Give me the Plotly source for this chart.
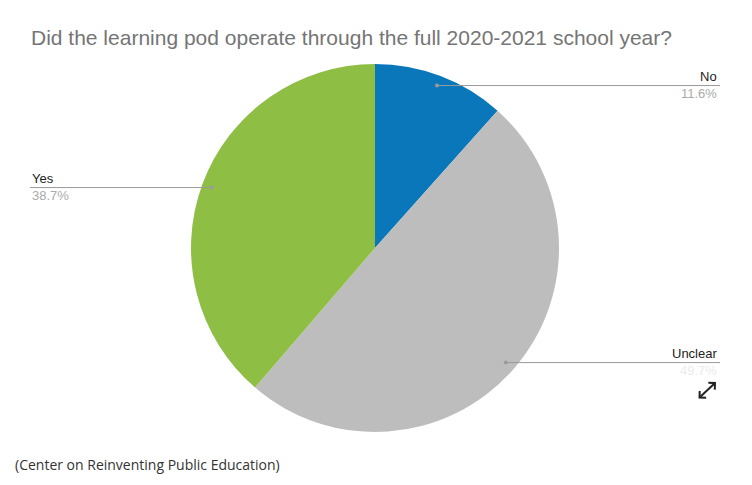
import math
import plotly.graph_objects as go

# ---- data ----
labels = ["No", "Unclear", "Yes"]
values = [11.6, 49.7, 38.7]
colors = ["#0a77bb", "#bdbdbd", "#8fbe45"]
pct_text = ["11.6%", "49.7%", "38.7%"]

title_text = "Did the learning pod operate through the full 2020-2021 school year?"
source_text = "(Center on Reinventing Public Education)"

# ---- layout geometry (screen pixels; page has an 8px body margin) ----
W, H = 752, 485
OFF = 8
CX, CY, R = 375, 248, 184

def px(x):
    return (x - OFF) / W

def py(y):
    return 1 - (y - OFF) / H

fig = go.Figure(go.Pie(
    labels=labels, values=values, marker=dict(colors=colors, line=dict(width=0)),
    sort=False, direction="clockwise", rotation=0, textinfo="none",
    hoverinfo="label+percent", showlegend=False,
    domain=dict(x=[px(CX - R), px(CX + R)], y=[py(CY + R), py(CY - R)]),
))

shapes = []
annotations = []
total = sum(values)
cum = 0.0
line_color = "#9a9a9a"
for lab, val, pct in zip(labels, values, pct_text):
    mid = (cum + val / 2) / total * 2 * math.pi
    cum += val
    dx = math.sin(mid)
    dy = -math.cos(mid)
    dot_x = CX + 0.945 * R * dx
    dot_y = CY + 0.945 * R * dy
    right = dx > 0
    end_x = 720 if right else 30
    shapes.append(dict(type="line", xref="paper", yref="paper",
                       x0=px(dot_x), y0=py(dot_y), x1=px(end_x), y1=py(dot_y),
                       line=dict(color=line_color, width=1)))
    shapes.append(dict(type="circle", xref="paper", yref="paper",
                       x0=px(dot_x - 2), y0=py(dot_y - 2), x1=px(dot_x + 2), y1=py(dot_y + 2),
                       line=dict(width=0), fillcolor=line_color))
    anchor = "right" if right else "left"
    tx = 719 if right else 30
    annotations.append(dict(text=lab, x=px(tx), y=py(dot_y + 0.5), xref="paper", yref="paper",
                            xanchor=anchor, yanchor="bottom", showarrow=False,
                            font=dict(family="Liberation Sans, Arial", size=13, color="#222222")))
    pcolor = "#ebebeb" if lab == "Unclear" else "#aaaaaa"
    annotations.append(dict(text=pct, x=px(tx), y=py(dot_y - 1.5), xref="paper", yref="paper",
                            xanchor=anchor, yanchor="top", showarrow=False,
                            font=dict(family="Liberation Sans, Arial", size=13, color=pcolor)))

annotations.append(dict(text=title_text, x=px(29), y=py(37), xref="paper", yref="paper",
                        xanchor="left", yanchor="middle", showarrow=False,
                        font=dict(family="Liberation Sans, Arial", size=21, color="#757575")))
annotations.append(dict(text=source_text, x=px(13), y=py(464), xref="paper", yref="paper",
                        xanchor="left", yanchor="middle", showarrow=False,
                        font=dict(family="Open Sans", size=14, color="#333333")))
# expand icon
annotations.append(dict(text="", x=px(716), y=py(382), xref="paper", yref="paper",
                        ax=-19, ay=18, axref="pixel", ayref="pixel",
                        showarrow=True, arrowside="end+start", arrowhead=4,
                        arrowsize=0.9, arrowwidth=2, arrowcolor="#222222"))

fig.update_layout(width=W, height=H, margin=dict(l=0, r=0, t=0, b=0),
                  paper_bgcolor="white", plot_bgcolor="white",
                  shapes=shapes, annotations=annotations)
fig.write_html("out.html")
